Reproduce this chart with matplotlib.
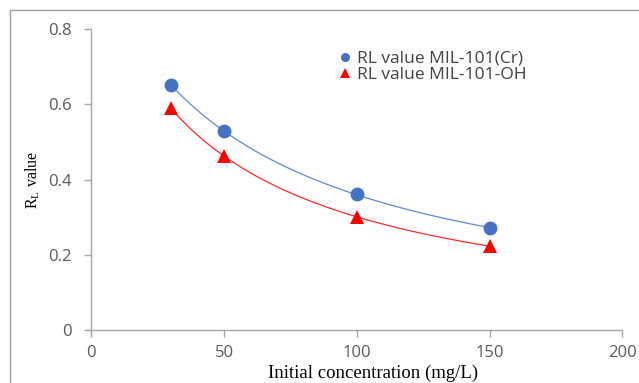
import numpy as np
import matplotlib
matplotlib.use("Agg")
import matplotlib.pyplot as plt
from matplotlib.lines import Line2D

concentration = [30, 50, 100, 150]
rl_cr = [0.652, 0.529, 0.361, 0.272]
rl_oh = [0.590, 0.463, 0.301, 0.223]
labels = ["RL value MIL-101(Cr)", "RL value MIL-101-OH"]
x_ticks = [0, 50, 100, 150, 200]
y_ticks = [0, 0.2, 0.4, 0.6, 0.8]
y_tick_labels = ["0", "0.2", "0.4", "0.6", "0.8"]

blue = "#4472C4"
red = "#FF0000"
axis_gray = "#A6A6A6"
tick_color = "#595959"
sans = "Open Sans"
serif = "Liberation Serif"

fig = plt.figure(figsize=(6.39, 3.83), dpi=100)
# outer chart frame (cropped on right/bottom)
fig.add_artist(Line2D([10/639, 10/639], [-0.1, 1 - 10/383], transform=fig.transFigure,
                      color="#A0A0A0", lw=1.0))
fig.add_artist(Line2D([10/639, 1.1], [1 - 10/383, 1 - 10/383], transform=fig.transFigure,
                      color="#A0A0A0", lw=1.0))

ax = fig.add_axes([91.3/639, 53/383, 531/639, 300.7/383])

def langmuir_curve(x, y):
    x = np.asarray(x, float)
    y = np.asarray(y, float)
    k = np.sum(x * (1/y - 1)) / np.sum(x**2)
    xs = np.linspace(x.min(), x.max(), 200)
    return xs, 1/(1 + k*xs)

for ys, col, mk, ms, lab in [(rl_cr, blue, "o", 10, labels[0]), (rl_oh, red, "^", 10, labels[1])]:
    xs, yc = langmuir_curve(concentration, ys)
    ax.plot(xs, yc, color=col, lw=0.9, alpha=0.85, zorder=2)
    ax.plot(concentration, ys, linestyle="none", marker=mk, color=col, markersize=ms,
            markeredgewidth=0, zorder=3, label=lab)

ax.set_xlim(0, 200)
ax.set_ylim(0, 0.8)
ax.set_xticks(x_ticks)
ax.set_yticks(y_ticks)
ax.set_yticklabels(y_tick_labels)
for s in ["top", "right"]:
    ax.spines[s].set_visible(False)
for s in ["left", "bottom"]:
    ax.spines[s].set_color(axis_gray)
    ax.spines[s].set_linewidth(1.0)
ax.tick_params(axis="both", direction="out", length=5, width=1.0, color=axis_gray,
               labelcolor=tick_color, labelsize=12)
ax.tick_params(axis="y", pad=9)
ax.tick_params(axis="x", pad=6)
for t in ax.get_xticklabels() + ax.get_yticklabels():
    t.set_family(sans)

ax.set_xlabel("Initial concentration (mg/L)", family=serif, fontsize=13.5, color="#000000")
ax.xaxis.set_label_coords((373 - 91.3) / 531, -(373 - 330) / 300.7)
ax.xaxis.label.set_va("center")
ax.set_ylabel(r"R$_\mathregular{L}$ value", family=serif, fontsize=11.5, color="#000000",
              labelpad=4.5)

leg = ax.legend(loc="upper left", bbox_to_anchor=(324/639, 1 - 35/383),
                bbox_transform=fig.transFigure, frameon=False, markerscale=0.65,
                handlelength=0.6, handletextpad=0.4, labelspacing=0.0,
                prop={"family": sans, "size": 12.5})
for t in leg.get_texts():
    t.set_color("#404040")

fig.savefig("out.png", dpi=100)
